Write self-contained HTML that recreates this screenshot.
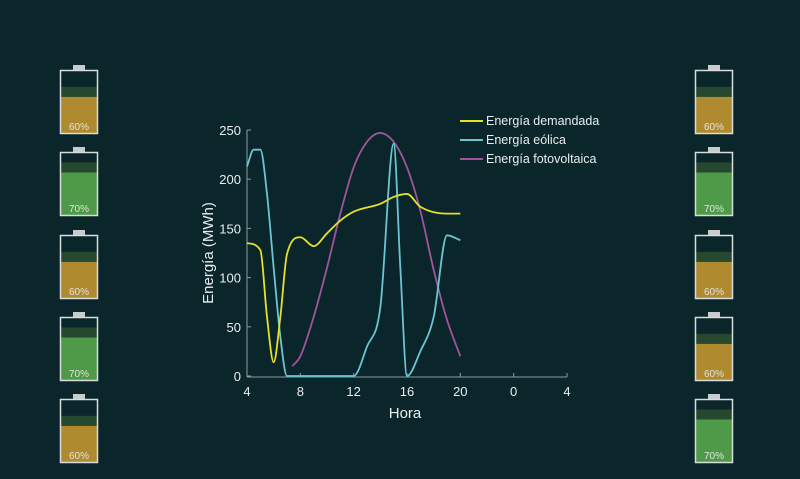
<!DOCTYPE html><html><head><meta charset="utf-8"><style>
html,body{margin:0;padding:0;background:#0b262b;width:800px;height:479px;overflow:hidden}
svg{display:block;font-family:"Liberation Sans",sans-serif}
</style></head><body>
<svg id="s" width="800" height="479" viewBox="0 0 800 479">
<rect width="800" height="479" fill="#0b262b"/>
<g id="bat"></g>
<g stroke="#8a9ea0" stroke-width="1" fill="none">
<line x1="247" y1="130" x2="247" y2="377"/>
<line x1="247" y1="377" x2="567" y2="377"/>
</g>
<g id="ticks" fill="#e8eeee" font-size="13"></g>
<text x="405" y="418" fill="#e8eeee" font-size="15" text-anchor="middle">Hora</text>
<text transform="translate(213,253) rotate(-90)" fill="#e8eeee" font-size="15" text-anchor="middle">Energía (MWh)</text>
<g id="lines" fill="none" stroke-width="1.8"></g>
<g font-size="12.5" fill="#e8eeee">
<line x1="460" y1="121" x2="483" y2="121" stroke="#e6e02a" stroke-width="2"/><text x="486" y="125">Energía demandada</text>
<line x1="460" y1="140" x2="483" y2="140" stroke="#6cc4d4" stroke-width="2"/><text x="486" y="144">Energía eólica</text>
<line x1="460" y1="159" x2="483" y2="159" stroke="#a0549a" stroke-width="2"/><text x="486" y="163">Energía fotovoltaica</text>
</g>
</svg>
<script>
const NS="http://www.w3.org/2000/svg";
function el(t,a,p,txt){const e=document.createElementNS(NS,t);for(const k in a)e.setAttribute(k,a[k]);if(txt!==undefined)e.textContent=txt;p.appendChild(e);return e;}
const X=h=>247+(h-4)*13.333,Y=v=>376-v*0.984;
const tk=document.getElementById('ticks');
[[4,'4'],[8,'8'],[12,'12'],[16,'16'],[20,'20'],[24,'0'],[28,'4']].forEach(([h,l])=>{el('line',{x1:X(h),y1:377,x2:X(h),y2:373,stroke:'#8a9ea0'},tk);el('text',{x:X(h),y:396,'text-anchor':'middle'},tk,l);});
[0,50,100,150,200,250].forEach(v=>{el('line',{x1:247,y1:Y(v),x2:251,y2:Y(v),stroke:'#8a9ea0'},tk);el('text',{x:241,y:Y(v)+5,'text-anchor':'end'},tk,String(v));});
function path(pts){const n=pts.length,x=pts.map(p=>p[0]),y=pts.map(p=>p[1]);const d=[],m=[];
for(let i=0;i<n-1;i++)d.push((y[i+1]-y[i])/(x[i+1]-x[i]));
for(let i=0;i<n;i++){if(i==0)m.push(d[0]);else if(i==n-1)m.push(d[n-2]);else m.push(d[i-1]*d[i]<=0?0:(d[i-1]+d[i])/2);}
for(let i=0;i<n-1;i++){if(d[i]==0){m[i]=0;m[i+1]=0;continue;}const a=m[i]/d[i],b=m[i+1]/d[i],s=a*a+b*b;if(s>9){const t=3/Math.sqrt(s);m[i]=t*a*d[i];m[i+1]=t*b*d[i];}}
let s='M'+X(x[0])+','+Y(y[0]);
for(let i=0;i<n-1;i++){const h=x[i+1]-x[i];s+=' C'+X(x[i]+h/3)+','+Y(y[i]+m[i]*h/3)+' '+X(x[i+1]-h/3)+','+Y(y[i+1]-m[i+1]*h/3)+' '+X(x[i+1])+','+Y(y[i+1]);}
return s;}
const L=document.getElementById('lines');
el('path',{d:path([[7.4,10],[8,20],[9,60],[10,110],[11,165],[12,212],[13,238],[14,247],[15,238],[16,212],[17,168],[18,108],[19,57],[20,20]]),stroke:'#a0549a'},L);
el('path',{d:path([[4,213],[4.5,230],[5,230],[5.5,185],[6,110],[6.5,40],[7,0],[12,0],[13,30],[14,70],[15,236],[15.5,110],[16,0],[17,25],[18,60],[19,143],[20,138]]),stroke:'#6cc4d4'},L);
el('path',{d:path([[4,135],[5,128],[5.5,60],[6,14],[6.5,60],[7,124],[8,141],[9,132],[10,145],[11,158],[12,167],[14,175],[15,182],[16,185],[17,172],[19,165],[20,165]]),stroke:'#e6e02a'},L);
const B=document.getElementById('bat');
const tops=[70,152,235,317,399];
const left=['o','g','o','g','o'],right=['o','g','o','o','g'];
function bat(x,y,t,lbl){const c=t=='o'?'#b08a2e':'#4f9a48';const f=t=='o'?0.58:0.68;const h=64;
el('rect',{x:x+13,y:y-5,width:12,height:5,fill:'#c8cccc'},B);
el('rect',{x:x+1,y:y+1,width:36,height:h-2,fill:'#0b262b'},B);
const fy=y+h-h*f;
el('rect',{x:x+1,y:fy-10,width:36,height:10,fill:'#25482f'},B);
el('rect',{x:x+1,y:fy,width:36,height:y+h-1-fy,fill:c},B);
el('rect',{x:x+0.5,y:y+0.5,width:37,height:h-1,fill:'none',stroke:'#d8dcdc','stroke-width':1.5},B);
el('text',{x:x+19,y:y+h-4,'text-anchor':'middle','font-size':10,fill:'#e0e4e0'},B,lbl);}
tops.forEach((y,i)=>{bat(60,y,left[i],left[i]=='o'?'60%':'70%');bat(695,y,right[i],right[i]=='o'?'60%':'70%');});
</script>
</body></html>
